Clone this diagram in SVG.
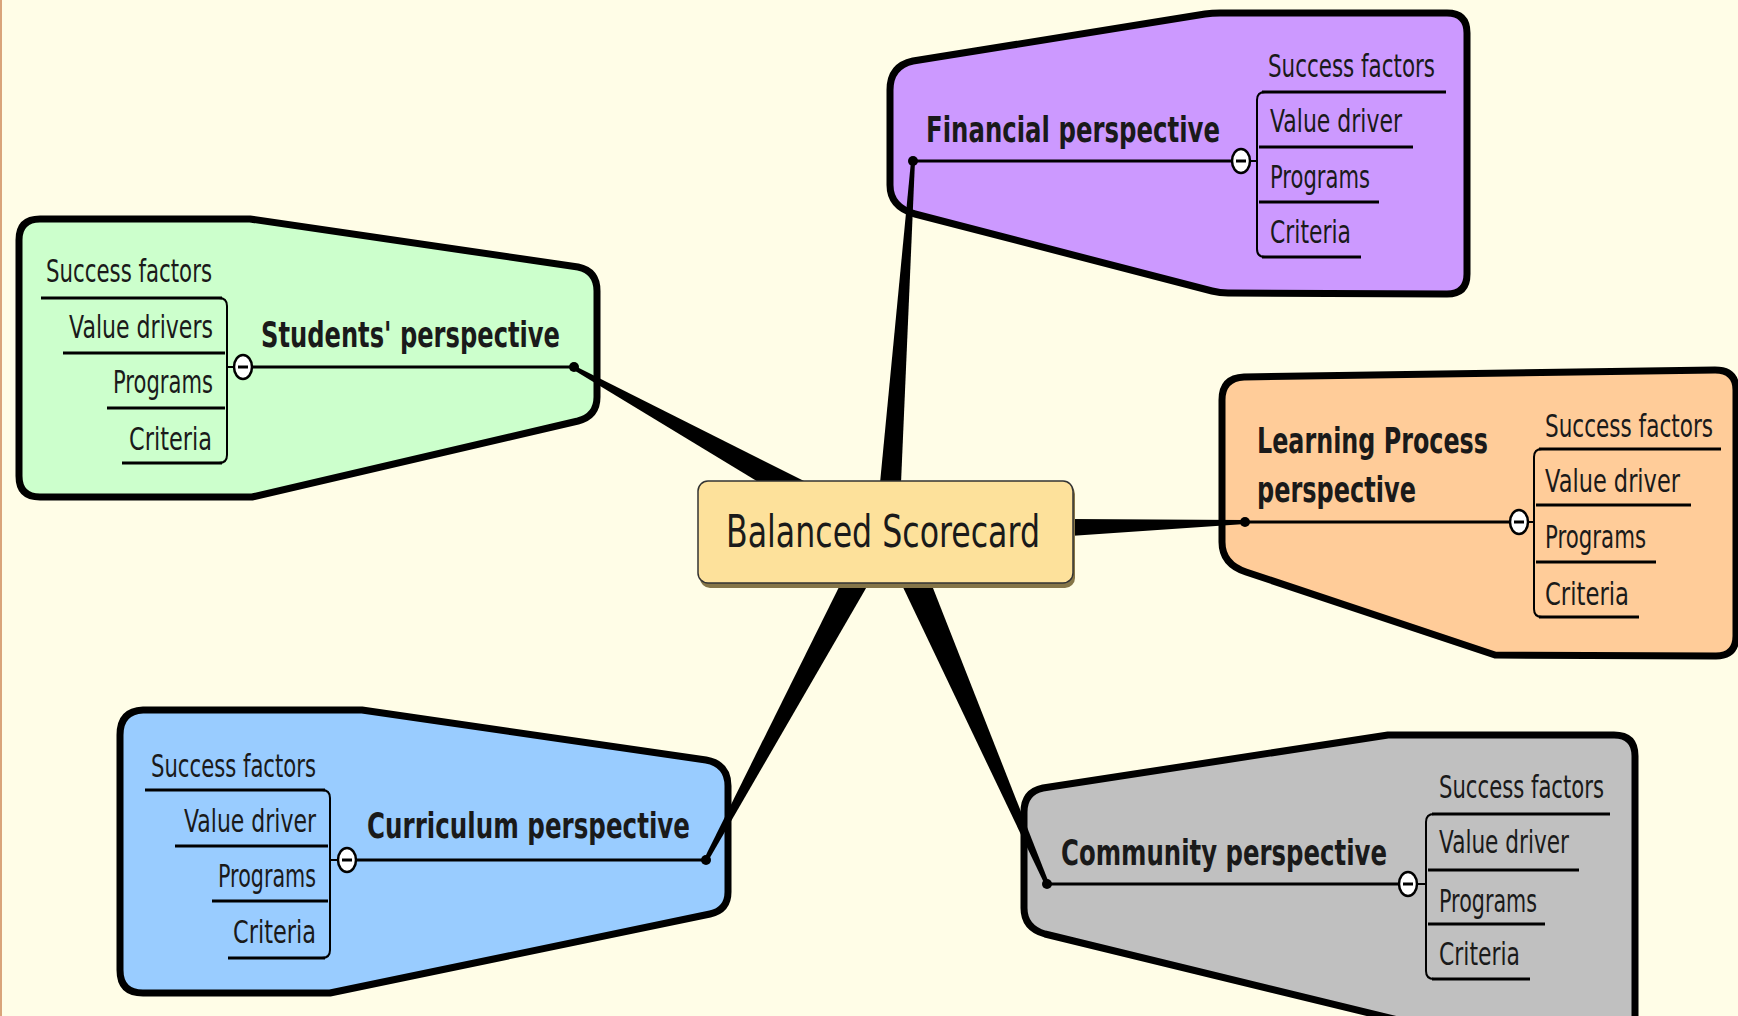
<svg xmlns="http://www.w3.org/2000/svg" width="1738" height="1016" viewBox="0 0 1738 1016">
<style>
.bg{fill:#FFFDE7}
.shape{stroke:#000;stroke-width:7;stroke-linejoin:round}
.t{font-family:"DejaVu Sans","Liberation Sans",sans-serif;fill:#1a1a1a}
.title{font-weight:bold;font-size:24.5px}
.item{font-size:21.5px}
.ul{stroke:#000;stroke-width:3;fill:none}
.br{stroke:#000;stroke-width:2;fill:none}
.stem{stroke:#000;stroke-width:3}
.btn{fill:#fff;stroke:#000;stroke-width:2.5}
.minus{stroke:#000;stroke-width:3}
.dot{fill:#000}
.wedge{fill:#000}
</style>
<rect class="bg" x="0" y="0" width="1738" height="1016"/>
<rect x="0" y="0" width="2" height="1016" fill="#D9A47A"/>

<g id="financial">
<path class="shape" fill="#CC99FF" d="M 890,90 Q 890,66 913,61 L 1205,14 Q 1212,13 1220,13 L 1447,13 Q 1467,13 1467,33 L 1467,274 Q 1467,294 1447,294 L 1228,293 Q 1220,293 1212,291 L 915,214 Q 890,207 890,185 Z"/>
<line class="stem" x1="913" y1="161" x2="1232" y2="161"/>
<text class="t title" transform="translate(926,142) scale(1,1.45)" textLength="294" lengthAdjust="spacingAndGlyphs">Financial perspective</text>
<path class="br" d="M 1265,92 Q 1257,92 1257,100 L 1257,249 Q 1257,257 1265,257 M 1250,161 L 1257,161"/>
<ellipse class="btn" cx="1241" cy="161" rx="9" ry="12"/>
<line class="minus" x1="1236" y1="161" x2="1246" y2="161"/>
<text class="t item" transform="translate(1268,77) scale(1,1.45)" textLength="167" lengthAdjust="spacingAndGlyphs">Success factors</text>
<line class="ul" x1="1262" y1="92" x2="1446" y2="92"/>
<text class="t item" transform="translate(1270,132) scale(1,1.45)" textLength="132" lengthAdjust="spacingAndGlyphs">Value driver</text>
<line class="ul" x1="1259" y1="147" x2="1413" y2="147"/>
<text class="t item" transform="translate(1270,188) scale(1,1.45)" textLength="100" lengthAdjust="spacingAndGlyphs">Programs</text>
<line class="ul" x1="1259" y1="202" x2="1379" y2="202"/>
<text class="t item" transform="translate(1270,243) scale(1,1.45)" textLength="81" lengthAdjust="spacingAndGlyphs">Criteria</text>
<line class="ul" x1="1262" y1="257" x2="1361" y2="257"/>
<circle class="dot" cx="913" cy="161" r="5"/>
</g>

<g id="students">
<path class="shape" fill="#CCFFCC" d="M 19,240 Q 19,219 40,219 L 250,219 L 578,267 Q 597,271 597,291 L 597,397 Q 597,416 578,421 L 252,497 L 40,497 Q 19,497 19,476 Z"/>
<line class="stem" x1="252" y1="367" x2="574" y2="367"/>
<text class="t title" transform="translate(261,347) scale(1,1.45)" textLength="299" lengthAdjust="spacingAndGlyphs">Students' perspective</text>
<path class="br" d="M 219,298 Q 227,298 227,306 L 227,455 Q 227,463 219,463 M 227,367 L 234,367"/>
<ellipse class="btn" cx="243" cy="367" rx="9" ry="12"/>
<line class="minus" x1="238" y1="367" x2="248" y2="367"/>
<text class="t item" transform="translate(46,282) scale(1,1.45)" textLength="166" lengthAdjust="spacingAndGlyphs">Success factors</text>
<line class="ul" x1="41" y1="298" x2="222" y2="298"/>
<text class="t item" transform="translate(69,338) scale(1,1.45)" textLength="144" lengthAdjust="spacingAndGlyphs">Value drivers</text>
<line class="ul" x1="63" y1="353" x2="225" y2="353"/>
<text class="t item" transform="translate(113,393) scale(1,1.45)" textLength="100" lengthAdjust="spacingAndGlyphs">Programs</text>
<line class="ul" x1="107" y1="408" x2="225" y2="408"/>
<text class="t item" transform="translate(129,450) scale(1,1.45)" textLength="83" lengthAdjust="spacingAndGlyphs">Criteria</text>
<line class="ul" x1="122" y1="463" x2="222" y2="463"/>
<circle class="dot" cx="574" cy="367" r="5"/>
</g>

<g id="learning">
<path class="shape" fill="#FFCC99" d="M 1222,400 Q 1222,378 1244,377 L 1715,370 Q 1736,370 1736,390 L 1736,636 Q 1736,656 1716,656 L 1495,655 L 1246,572 Q 1222,564 1222,542 Z"/>
<line class="stem" x1="1245" y1="522" x2="1510" y2="522"/>
<text class="t title" transform="translate(1257,453) scale(1,1.45)" textLength="231" lengthAdjust="spacingAndGlyphs">Learning Process</text>
<text class="t title" transform="translate(1257,502) scale(1,1.45)" textLength="159" lengthAdjust="spacingAndGlyphs">perspective</text>
<path class="br" d="M 1542,449 Q 1534,449 1534,457 L 1534,609 Q 1534,617 1542,617 M 1528,522 L 1534,522"/>
<ellipse class="btn" cx="1519" cy="522" rx="9" ry="12"/>
<line class="minus" x1="1514" y1="522" x2="1524" y2="522"/>
<text class="t item" transform="translate(1545,437) scale(1,1.45)" textLength="168" lengthAdjust="spacingAndGlyphs">Success factors</text>
<line class="ul" x1="1539" y1="449" x2="1721" y2="449"/>
<text class="t item" transform="translate(1545,492) scale(1,1.45)" textLength="135" lengthAdjust="spacingAndGlyphs">Value driver</text>
<line class="ul" x1="1536" y1="505" x2="1691" y2="505"/>
<text class="t item" transform="translate(1545,548) scale(1,1.45)" textLength="101" lengthAdjust="spacingAndGlyphs">Programs</text>
<line class="ul" x1="1536" y1="562" x2="1656" y2="562"/>
<text class="t item" transform="translate(1545,605) scale(1,1.45)" textLength="84" lengthAdjust="spacingAndGlyphs">Criteria</text>
<line class="ul" x1="1539" y1="617" x2="1639" y2="617"/>
<circle class="dot" cx="1245" cy="522" r="5"/>
</g>

<g id="curriculum">
<path class="shape" fill="#99CCFF" d="M 120,735 Q 120,711 143,710 L 362,710 L 706,760 Q 728,764 728,786 L 728,892 Q 728,910 710,914 L 330,993 L 143,993 Q 120,993 120,970 Z"/>
<line class="stem" x1="356" y1="860" x2="706" y2="860"/>
<text class="t title" transform="translate(367,838) scale(1,1.45)" textLength="323" lengthAdjust="spacingAndGlyphs">Curriculum perspective</text>
<path class="br" d="M 322,790 Q 330,790 330,798 L 330,950 Q 330,958 322,958 M 330,860 L 338,860"/>
<ellipse class="btn" cx="347" cy="860" rx="9" ry="12"/>
<line class="minus" x1="342" y1="860" x2="352" y2="860"/>
<text class="t item" transform="translate(151,777) scale(1,1.45)" textLength="165" lengthAdjust="spacingAndGlyphs">Success factors</text>
<line class="ul" x1="145" y1="790" x2="325" y2="790"/>
<text class="t item" transform="translate(184,832) scale(1,1.45)" textLength="132" lengthAdjust="spacingAndGlyphs">Value driver</text>
<line class="ul" x1="175" y1="846" x2="328" y2="846"/>
<text class="t item" transform="translate(218,887) scale(1,1.45)" textLength="98" lengthAdjust="spacingAndGlyphs">Programs</text>
<line class="ul" x1="212" y1="901" x2="328" y2="901"/>
<text class="t item" transform="translate(233,943) scale(1,1.45)" textLength="83" lengthAdjust="spacingAndGlyphs">Criteria</text>
<line class="ul" x1="228" y1="958" x2="325" y2="958"/>
<circle class="dot" cx="706" cy="860" r="5"/>
</g>

<g id="community">
<path class="shape" fill="#C0C0C0" d="M 1024,812 Q 1024,792 1043,788 L 1388,735 L 1614,735 Q 1635,735 1635,756 L 1635,1040 L 1480,1040 L 1045,934 Q 1024,928 1024,908 Z"/>
<line class="stem" x1="1047" y1="884" x2="1399" y2="884"/>
<text class="t title" transform="translate(1061,865) scale(1,1.45)" textLength="326" lengthAdjust="spacingAndGlyphs">Community perspective</text>
<path class="br" d="M 1434,814 Q 1426,814 1426,822 L 1426,971 Q 1426,979 1434,979 M 1417,884 L 1426,884"/>
<ellipse class="btn" cx="1408" cy="884" rx="9" ry="12"/>
<line class="minus" x1="1403" y1="884" x2="1413" y2="884"/>
<text class="t item" transform="translate(1439,798) scale(1,1.45)" textLength="165" lengthAdjust="spacingAndGlyphs">Success factors</text>
<line class="ul" x1="1432" y1="814" x2="1610" y2="814"/>
<text class="t item" transform="translate(1439,853) scale(1,1.45)" textLength="130" lengthAdjust="spacingAndGlyphs">Value driver</text>
<line class="ul" x1="1428" y1="870" x2="1579" y2="870"/>
<text class="t item" transform="translate(1439,912) scale(1,1.45)" textLength="98" lengthAdjust="spacingAndGlyphs">Programs</text>
<line class="ul" x1="1428" y1="924" x2="1545" y2="924"/>
<text class="t item" transform="translate(1439,965) scale(1,1.45)" textLength="81" lengthAdjust="spacingAndGlyphs">Criteria</text>
<line class="ul" x1="1432" y1="979" x2="1530" y2="979"/>
<circle class="dot" cx="1047" cy="884" r="5"/>
</g>

<g id="connectors">
<polygon class="wedge" points="880,483 901,483 915,161 911,161"/>
<polygon class="wedge" points="760,483 808,483 575,366 572,369"/>
<polygon class="wedge" points="1070,519 1070,536 1245,524 1245,520"/>
<polygon class="wedge" points="841,583 869,583 708,861 704,859"/>
<polygon class="wedge" points="901,583 931,583 1049,883 1045,885"/>
</g>

<g id="center">
<rect x="700" y="484" width="375" height="104" rx="10" fill="#857548"/>
<rect x="698" y="481" width="375" height="102" rx="10" fill="#FDE19B" stroke="#333" stroke-width="1.5"/>
<text class="t" transform="translate(726,547) scale(1,1.4)" font-size="31.5" fill="#333" textLength="314" lengthAdjust="spacingAndGlyphs">Balanced Scorecard</text>
</g>
</svg>
